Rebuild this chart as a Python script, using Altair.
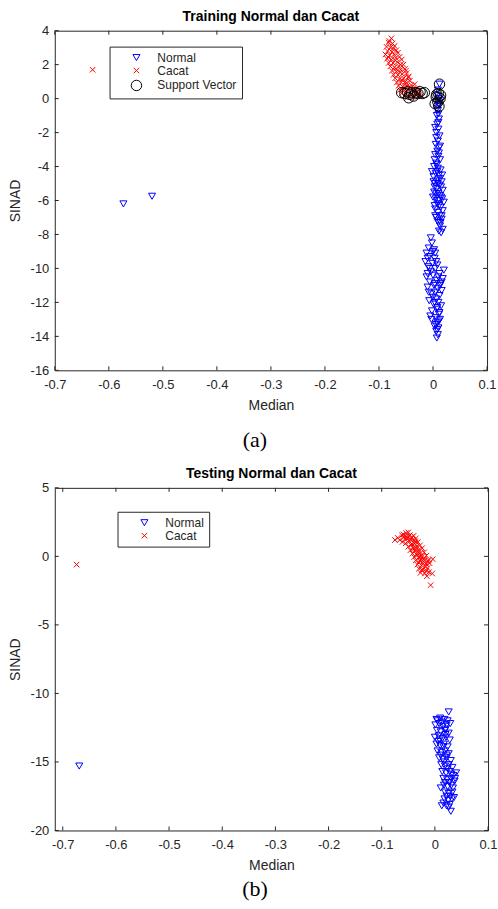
import altair as alt
import pandas as pd

# ---------------- (a) Training ----------------
train_normal_x = [-0.573, -0.520,
    0.012, 0.008, 0.010, 0.006, 0.012, 0.009, 0.007, 0.011, 0.008, 0.010, 0.006, 0.012, 0.009, 0.005,
    0.011, 0.008, 0.004, 0.010, 0.013, 0.006, 0.002, 0.009, 0.014, 0.005, 0.011, 0.001, 0.008, 0.016,
    0.004, 0.012, 0.007, 0.018, 0.002, 0.010, 0.015, 0.005, 0.012, 0.020, 0.008, 0.003, 0.014, 0.018,
    0.009, 0.012, 0.006, 0.016, 0.010, 0.013, 0.018, 0.015, 0.004, 0.000, -0.002, 0.007, 0.013, 0.004,
    0.010, 0.014,
    0.009, 0.011, 0.007, 0.010, 0.006, 0.011, 0.003, 0.008, 0.013, 0.003, 0.009, 0.015, 0.006, 0.013,
    0.017, 0.009, 0.004, 0.011, 0.016, 0.008, 0.014, 0.011, 0.001, 0.017,
    -0.004, -0.002, -0.008, 0.002, -0.012, -0.006, 0.003, -0.014, -0.001, 0.008, -0.009, 0.004, -0.004,
    0.012, 0.000, 0.018, 0.007, -0.006, 0.014, 0.002, -0.010, 0.009, 0.004, -0.003, 0.012, 0.006, -0.007,
    0.010, 0.001, 0.015, 0.007, -0.002, 0.011, 0.005, 0.013, 0.008, 0.003, 0.010, 0.006, 0.009, 0.007,
    0.016, -0.012, 0.020, -0.005, 0.004,
    -0.010, 0.000, 0.006, -0.006, 0.010, 0.003, -0.008, 0.013, 0.000, 0.008, 0.003, 0.012, -0.003,
    0.008, 0.005, 0.011, 0.016, -0.010]
train_normal_y = [-6.2, -5.75,
    0.85, 0.2, 0.0, -0.2, -0.4, -0.7, -1.0, -1.2, -1.5, -1.8, -2.0, -2.2, -2.5, -2.7,
    -2.9, -3.1, -3.3, -3.4, -3.6, -3.8, -4.0, -4.1, -4.2, -4.4, -4.5, -4.6, -4.8, -4.9,
    -5.0, -5.1, -5.3, -5.4, -5.5, -5.6, -5.8, -5.9, -6.0, -6.1, -6.2, -6.3, -6.4, -6.6,
    -6.7, -6.9, -7.0, -7.1, -7.3, -7.5, -7.7, -7.9, -6.9, -5.8, -4.3, -3.9, -2.8, -1.7,
    -0.9, -0.1,
    0.5, -0.3, -0.6, -1.4, -2.3, -3.2, -3.6, -4.3, -4.7, -5.2, -5.0, -5.2, -5.6, -5.7,
    -5.9, -6.0, -6.5, -6.3, -6.9, -7.2, -7.3, -7.8, -4.9, -4.5,
    -8.2, -8.5, -8.8, -8.9, -9.1, -9.3, -9.4, -9.6, -9.7, -9.8, -9.9, -10.0, -10.2,
    -10.3, -10.4, -10.6, -10.7, -10.8, -10.9, -11.0, -11.1, -11.2, -11.4, -11.5, -11.6, -11.8, -11.9,
    -12.0, -12.1, -12.2, -12.4, -12.5, -12.7, -12.9, -13.0, -13.2, -13.4, -13.5, -13.7, -13.9, -14.1,
    -11.3, -10.5, -10.1, -12.8, -9.1,
    -9.4, -9.0, -9.6, -10.0, -10.5, -10.9, -11.4, -11.0, -11.7, -12.3, -12.0, -12.6, -13.0,
    -13.6, -13.3, -13.1, -10.8, -10.3]

train_cacat_x = [-0.630,
    -0.077, -0.082, -0.075, -0.086, -0.079, -0.071, -0.084, -0.076, -0.068, -0.088, -0.080, -0.072,
    -0.065, -0.085, -0.077, -0.069, -0.062, -0.082, -0.074, -0.066, -0.058, -0.079, -0.071, -0.063,
    -0.055, -0.076, -0.068, -0.060, -0.052, -0.073, -0.065, -0.057, -0.049, -0.070, -0.062, -0.054,
    -0.046, -0.067, -0.059, -0.051, -0.043, -0.064, -0.056, -0.048, -0.040, -0.034, -0.061, -0.053,
    -0.045, -0.037, -0.030, -0.058, -0.050, -0.042, -0.034, -0.026, -0.022, -0.047, -0.038, -0.060,
    -0.050, -0.045,
    -0.081, -0.074, -0.083, -0.070, -0.061, -0.069, -0.058, -0.050, -0.041, -0.054, -0.033, -0.028]
train_cacat_y = [1.70,
    3.55, 3.3, 3.25, 3.05, 3.0, 3.1, 2.8, 2.75, 2.85, 2.6, 2.55, 2.6,
    2.7, 2.35, 2.3, 2.4, 2.45, 2.1, 2.1, 2.15, 2.3, 1.9, 1.85, 1.9,
    2.0, 1.65, 1.6, 1.7, 1.75, 1.4, 1.4, 1.45, 1.5, 1.2, 1.15, 1.2,
    1.25, 0.95, 0.95, 1.0, 1.05, 0.75, 0.7, 0.75, 0.8, 0.85, 0.5, 0.5,
    0.55, 0.55, 0.6, 0.3, 0.3, 0.25, 0.3, 0.35, 0.15, 0.05, 0.1, 2.0,
    1.65, 1.3,
    3.4, 2.95, 2.45, 2.25, 1.55, 1.75, 1.1, 0.9, 0.65, 0.65, 0.45, 0.25]

train_sv_x = [-0.058, -0.052, -0.047, -0.043, -0.040, -0.036, -0.032, -0.028, -0.024, -0.020, -0.016, -0.045,
    0.012, 0.010, 0.006, 0.013, 0.009, 0.004, 0.011, 0.007, 0.014]
train_sv_y = [0.35, 0.3, 0.4, 0.25, 0.35, 0.15, 0.35, 0.3, 0.4, 0.3, 0.35, 0.05,
    0.85, 0.3, 0.1, 0.0, -0.2, -0.3, -0.45, 0.25, 0.2]

# ---------------- (b) Testing ----------------
test_normal_x = [-0.669,
    0.026, 0.003, 0.010, 0.018, 0.024, 0.001, 0.008, 0.015, 0.022, 0.029, 0.004, 0.011, 0.019, 0.026,
    0.000, 0.007, 0.014, 0.021, 0.028, 0.003, 0.010, 0.017, 0.024, 0.005, 0.012, 0.019, 0.026, 0.008,
    0.015, 0.022, 0.030, 0.012, 0.019, 0.026, 0.033, 0.040, 0.014, 0.021, 0.028, 0.035, 0.016, 0.023,
    0.030, 0.037, 0.017, 0.024, 0.031, 0.019, 0.026, 0.033, 0.018, 0.025, 0.032, 0.013, 0.022, 0.030,
    0.028, 0.011, 0.036, 0.006, 0.020,
    0.005, 0.013, 0.020, 0.009, 0.016, 0.022, 0.011, 0.017, 0.024, 0.031, 0.019, 0.027, 0.034, 0.022,
    0.029, 0.016, 0.026, 0.038]
test_normal_y = [-15.3,
    -11.35, -11.9, -11.8, -11.9, -12.0, -12.3, -12.2, -12.4, -12.3, -12.2, -12.7, -12.8, -12.7, -12.9,
    -13.2, -13.1, -13.3, -13.2, -13.4, -13.7, -13.8, -13.7, -13.9, -14.2, -14.3, -14.2, -14.4, -14.7,
    -14.8, -14.7, -14.9, -15.2, -15.3, -15.2, -15.4, -15.8, -15.7, -15.8, -15.7, -16.0, -16.2, -16.3,
    -16.2, -16.4, -16.7, -16.8, -16.7, -17.2, -17.3, -17.2, -17.7, -17.8, -17.7, -18.2, -18.2, -18.6,
    -18.1, -16.9, -17.6, -13.5, -13.0,
    -12.0, -12.1, -12.6, -13.4, -13.9, -14.5, -14.5, -15.0, -15.5, -15.9, -16.5, -16.5, -16.9, -17.5,
    -17.5, -18.0, -18.3, -16.2]

test_cacat_x = [-0.674,
    -0.075, -0.070, -0.066, -0.062, -0.058, -0.054, -0.050, -0.047, -0.056, -0.061, -0.052, -0.044,
    -0.040, -0.048, -0.055, -0.042, -0.036, -0.045, -0.038, -0.032, -0.050, -0.041, -0.034, -0.028,
    -0.046, -0.038, -0.030, -0.024, -0.042, -0.035, -0.027, -0.020, -0.039, -0.031, -0.024, -0.016,
    -0.036, -0.028, -0.020, -0.012, -0.004, -0.033, -0.025, -0.017, -0.010, -0.030, -0.022, -0.014,
    -0.027, -0.019, -0.011, -0.005, -0.015, -0.008, -0.033, -0.026, -0.040, -0.018,
    -0.059, -0.053, -0.046, -0.037, -0.043, -0.035, -0.031, -0.027, -0.023, -0.021, -0.015, -0.016,
    -0.013, -0.030, -0.024]
test_cacat_y = [-0.6,
    1.2, 1.35, 1.2, 1.55, 1.4, 1.7, 1.75, 1.55, 1.25, 1.05, 1.3, 1.4,
    1.5, 1.1, 0.95, 1.2, 1.3, 0.85, 0.95, 1.05, 0.7, 0.65, 0.75, 0.8,
    0.45, 0.4, 0.5, 0.6, 0.2, 0.15, 0.25, 0.3, -0.05, -0.1, 0.0, 0.05,
    -0.3, -0.35, -0.3, -0.25, -0.2, -0.6, -0.65, -0.55, -0.5, -0.9, -0.95, -0.85,
    -1.2, -1.25, -1.15, -1.25, -1.45, -2.1, 0.1, -0.2, 0.55, -0.75,
    1.6, 1.45, 1.25, 1.1, 0.9, 0.6, 0.3, 0.0, -0.45, -0.2, -0.6, -1.05,
    -0.35, -0.45, -1.0]

# ---------------- ticks / labels ----------------
xticks = [-0.7, -0.6, -0.5, -0.4, -0.3, -0.2, -0.1, 0, 0.1]
yticks_a = [-16, -14, -12, -10, -8, -6, -4, -2, 0, 2, 4]
yticks_b = [-20, -15, -10, -5, 0, 5]
groups = ["Normal", "Cacat", "Support Vector"]
group_colors = ["#0000FF", "#FF0000", "#000000"]

XSHAPE = "M-1,-1L1,1M-1,1L1,-1"
AX = "#262626"
FONT = "Liberation Sans"


def make_df(series):
    rows = []
    for name, xs, ys in series:
        for x, y in zip(xs, ys):
            rows.append({"x": x, "y": y, "g": name})
    return pd.DataFrame(rows)


def panel(df, title, caption, xdom, ydom, yticks, W, H, lg_groups, lgx, lgy, cap_y):
    n = len(lg_groups)
    xs = alt.Scale(domain=xdom, nice=False, zero=False)
    ys = alt.Scale(domain=ydom, nice=False, zero=False)
    xax = alt.Axis(values=xticks, title="Median", labelExpr="toString(datum.value)",
                   labelFlush=False, labelPadding=8, titlePadding=7)
    yax = alt.Axis(values=yticks, title="SINAD", labelExpr="toString(datum.value)",
                   labelFlush=False, labelPadding=6, titlePadding=8)
    leg = alt.Legend(title=None, orient="none", legendX=lgx, legendY=lgy,
                     strokeColor=AX, fillColor="white", padding=5, cornerRadius=0,
                     labelFont=FONT, labelFontSize=12, labelColor=AX,
                     symbolOffset=16, labelOffset=15, rowPadding=1,
                     symbolStrokeWidth=1)
    cscale = alt.Scale(domain=lg_groups, range=group_colors[:n])
    sscale = alt.Scale(domain=lg_groups, range=["triangle-down", XSHAPE, "circle"][:n])
    zscale = alt.Scale(type="ordinal", domain=lg_groups, range=[50, 30, 110][:n])
    pts = alt.Chart(df).mark_point(filled=False, strokeWidth=1, opacity=1).encode(
        x=alt.X("x:Q", scale=xs, axis=xax),
        y=alt.Y("y:Q", scale=ys, axis=yax),
        color=alt.Color("g:N", scale=cscale, legend=leg),
        shape=alt.Shape("g:N", scale=sscale, legend=leg),
        size=alt.Size("g:N", scale=zscale, legend=leg),
    )
    xt = pd.DataFrame({"x": xticks})
    yt = pd.DataFrame({"y": yticks})
    tl = 4
    tick_b = alt.Chart(xt).mark_rule(color=AX, strokeWidth=1).encode(
        x=alt.X("x:Q", scale=xs, axis=xax), y=alt.value(H), y2=alt.value(H - tl))
    tick_t = alt.Chart(xt).mark_rule(color=AX, strokeWidth=1).encode(
        x=alt.X("x:Q", scale=xs, axis=xax), y=alt.value(0), y2=alt.value(tl))
    tick_l = alt.Chart(yt).mark_rule(color=AX, strokeWidth=1).encode(
        y=alt.Y("y:Q", scale=ys, axis=yax), x=alt.value(0), x2=alt.value(tl))
    tick_r = alt.Chart(yt).mark_rule(color=AX, strokeWidth=1).encode(
        y=alt.Y("y:Q", scale=ys, axis=yax), x=alt.value(W), x2=alt.value(W - tl))
    cap = alt.Chart(pd.DataFrame({"c": [caption]})).mark_text(
        font="Liberation Serif", fontSize=22, color="black", align="center", baseline="middle"
    ).encode(text="c:N", x=alt.value(201), y=alt.value(cap_y))
    return alt.layer(pts, tick_b, tick_t, tick_l, tick_r, cap).properties(
        width=W, height=H,
        title=alt.TitleParams(title, font=FONT, fontSize=14, fontWeight="bold",
                              color="black", anchor="middle", offset=1),
    )


df_a = make_df([("Normal", train_normal_x, train_normal_y),
                ("Cacat", train_cacat_x, train_cacat_y),
                ("Support Vector", train_sv_x, train_sv_y)])
df_b = make_df([("Normal", test_normal_x, test_normal_y),
                ("Cacat", test_cacat_x, test_cacat_y)])

ca = panel(df_a, "Training Normal dan Cacat", "(a)", [-0.7, 0.1], [-16, 4], yticks_a,
           434, 341, groups, 55, 16, 411)
cb = panel(df_b, "Testing Normal dan Cacat", "(b)", [-0.715, 0.1], [-20, 5], yticks_b,
           435, 344, groups[:2], 63, 24, 403)

chart = alt.vconcat(ca, cb, spacing=14).resolve_scale(
    x="independent", y="independent", color="independent",
    shape="independent", size="independent"
).properties(
    padding={"left": 7, "top": 7, "right": 0, "bottom": 0}
).configure_view(stroke=AX, strokeWidth=1).configure_axis(
    domain=False, ticks=False, grid=False,
    labelFont=FONT, labelFontSize=13, labelColor=AX,
    titleFont=FONT, titleFontSize=14, titleFontWeight="normal", titleColor=AX,
)

chart.save("out.html", embed_options={"renderer": "svg", "actions": False})
